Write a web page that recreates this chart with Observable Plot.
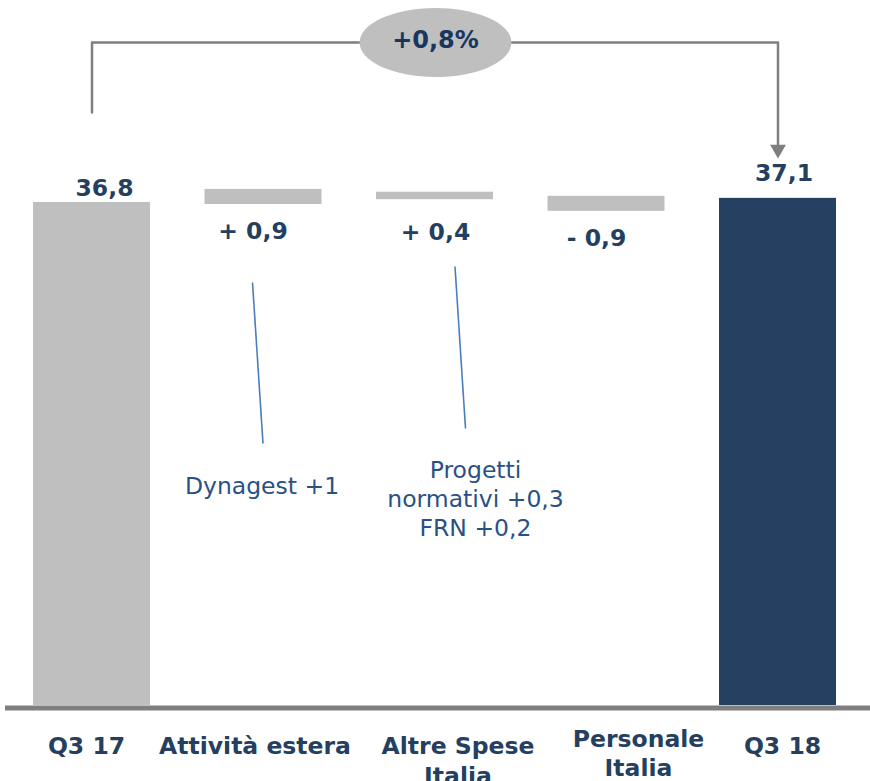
<!DOCTYPE html>
<html>
<head>
<meta charset="utf-8">
<script src="https://cdn.jsdelivr.net/npm/d3@7"></script>
<script src="https://cdn.jsdelivr.net/npm/@observablehq/plot@0.6"></script>
<style>
  html, body { margin: 0; padding: 0; background: #fff; }
  #chart svg { display: block; }
</style>
</head>
<body>
<div id="chart"></div>
<script>
// ---------- DATA ----------
const categories = ["Q3 17", "Attività estera", "Altre Spese\nItalia", "Personale\nItalia", "Q3 18"];
const kinds      = ["total", "delta", "delta", "delta", "total"];
const values     = [36.8, 0.9, 0.4, -0.9, 37.1];
// bar extents as drawn in the picture
const barLow     = [0, 36.65, 37.0, 36.15, 0];
const barHigh    = [36.8, 37.75, 37.55, 37.25, 37.1];
const growthPct  = 0.8;
const noteCategory = [1, 2];
const noteTexts    = ["Dynagest +1", "Progetti\nnormativi +0,3\nFRN +0,2"];

// ---------- LAYOUT ----------
const W = 870, H = 781, BASE = 705, PX_PER_UNIT = 13.67;
const STEP = 171.5, FIRST = 91.5, HALF = 58.5 / STEP;
const pxToY = px => (BASE - px) / PX_PER_UNIT;
const pxToX = px => (px - FIRST) / STEP;

const gray = "#bfbfbf", navy = "#264061", textNavy = "#243f60";
const lineGray = "#7f7f7f", noteBlue = "#4a7ebb", noteText = "#2a5185";

const fmt = v => Math.abs(v).toFixed(1).replace(".", ",");
const rows = categories.map((c, i) => ({
  i, c, kind: kinds[i], value: values[i], low: barLow[i], high: barHigh[i],
  label: kinds[i] === "total" ? fmt(values[i]) : (values[i] >= 0 ? "+ " : "- ") + fmt(values[i])
}));

// label nudges (px)
const valueNudge = [[12.5, -6], [-10.5, 35], [0.5, 40], [-10, 35], [6, -17]];
const catNudge   = [[-5.5, 48], [-8.5, 48], [23, 78], [32, 70.5], [4.5, 48]];
const noteTextNudge = [[-1.5, -212], [40.5, -170]];
const noteLines = [[252, 282, 262.5, 443], [454.5, 266, 465, 428]];

// ellipse symbol
const ellipse = {
  draw(ctx, size) {
    const r = Math.sqrt(size / Math.PI), rx = r * 2.2, ry = r, k = 0.5523;
    ctx.moveTo(rx, 0);
    ctx.bezierCurveTo(rx, ry * k, rx * k, ry, 0, ry);
    ctx.bezierCurveTo(-rx * k, ry, -rx, ry * k, -rx, 0);
    ctx.bezierCurveTo(-rx, -ry * k, -rx * k, -ry, 0, -ry);
    ctx.bezierCurveTo(rx * k, -ry, rx, -ry * k, rx, 0);
    ctx.closePath();
  }
};

const bracketTop = pxToY(42);
const bracket = [
  {x: 0, y: pxToY(112)},
  {x: 0, y: bracketTop},
  {x: 4, y: bracketTop},
  {x: 4, y: pxToY(146)}
];
const arrowTip = pxToY(158);

const marks = [];
// bars
marks.push(Plot.rectY(rows.filter(d => d.i !== 4), {
  x1: d => d.i - HALF, x2: d => d.i + HALF, y1: "low", y2: "high", fill: gray
}));
marks.push(Plot.rectY(rows.filter(d => d.i === 4), {
  x1: d => d.i - HALF, x2: d => d.i + HALF, y1: "low", y2: "high", fill: navy
}));
// baseline
marks.push(Plot.ruleY([0], {stroke: lineGray, strokeWidth: 5, dy: 2.5, insetLeft: 5}));
// bracket
marks.push(Plot.line(bracket, {x: "x", y: "y", stroke: lineGray, strokeWidth: 2.5, curve: "linear"}));
marks.push(Plot.dot([{x: 4, y: arrowTip}], {x: "x", y: "y", symbol: "triangle", rotate: 180, r: 5.9, fill: lineGray, dy: -9.2}));
marks.push(Plot.dot([{x: 2, y: bracketTop}], {x: "x", y: "y", symbol: ellipse, r: 34.5, fill: gray, dx: 0.5}));
marks.push(Plot.text([{x: 2, y: bracketTop}], {
  x: "x", y: "y", text: () => "+" + growthPct.toFixed(1).replace(".", ",") + "%",
  fontSize: 24, fontWeight: "bold", fill: "#17375e", dy: -2, dx: 0.5
}));
// value labels
rows.forEach((d, i) => {
  marks.push(Plot.text([d], {
    x: "i", y: d.kind === "total" ? "high" : "low", text: "label",
    dx: valueNudge[i][0], dy: valueNudge[i][1], lineAnchor: "bottom",
    fontSize: 23.5, fontWeight: "bold", fill: textNavy
  }));
});
// category labels
rows.forEach((d, i) => {
  marks.push(Plot.text([d], {
    x: "i", y: () => 0, text: "c",
    dx: catNudge[i][0], dy: catNudge[i][1], lineAnchor: "bottom", lineHeight: 1.25,
    fontSize: 23.5, fontWeight: "bold", fill: textNavy
  }));
});
// notes
noteTexts.forEach((t, k) => {
  const [x1, y1, x2, y2] = noteLines[k];
  marks.push(Plot.link([t], {
    x1: () => pxToX(x1), y1: () => pxToY(y1), x2: () => pxToX(x2), y2: () => pxToY(y2),
    stroke: noteBlue, strokeWidth: 1.6
  }));
  marks.push(Plot.text([t], {
    x: () => noteCategory[k], y: () => 0, text: d => d,
    dx: noteTextNudge[k][0], dy: noteTextNudge[k][1], lineAnchor: "bottom", lineHeight: 1.22,
    fontSize: 23.5, fill: noteText
  }));
});

const chart = Plot.plot({
  width: W, height: H, margin: 0,
  x: {type: "linear", domain: [pxToX(0), pxToX(W)], range: [0, W], axis: null},
  y: {type: "linear", domain: [0, BASE / PX_PER_UNIT], range: [BASE, 0], axis: null},
  style: {fontFamily: "'DejaVu Sans', Verdana, sans-serif", background: "#fff", overflow: "visible"},
  marks
});
document.getElementById("chart").append(chart);
</script>
</body>
</html>
